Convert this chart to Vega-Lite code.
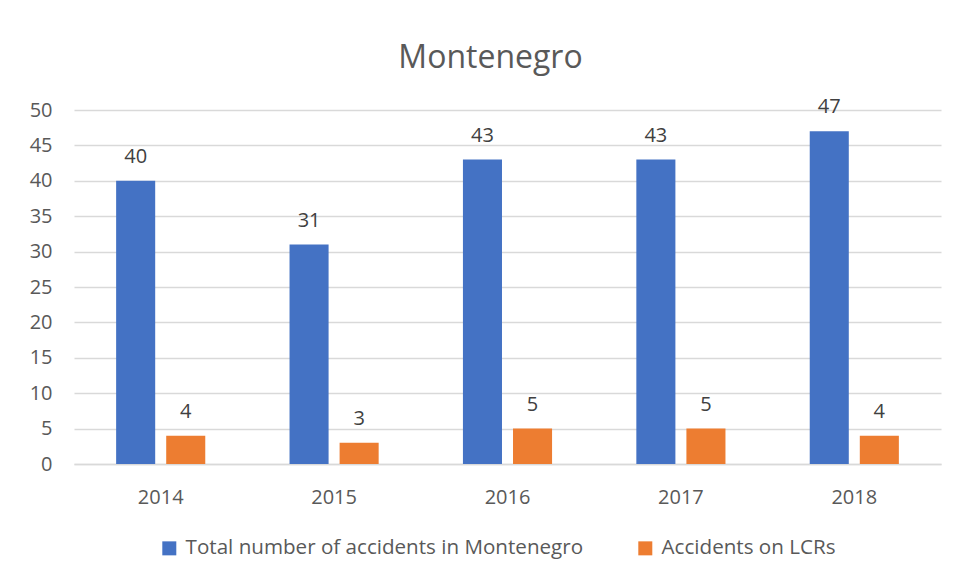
{
  "$schema": "https://vega.github.io/schema/vega-lite/v6.json",
  "width": 867,
  "height": 354,
  "autosize": {"type": "none"},
  "padding": {"left": 74, "top": 110, "right": 16, "bottom": 116},
  "background": "white",
  "title": {
    "text": "Montenegro",
    "font": "Open Sans",
    "fontSize": 32,
    "fontWeight": "normal",
    "color": "#595959",
    "anchor": "middle",
    "frame": "group",
    "dx": -17,
    "offset": 22
  },
  "data": {
    "values": [
      {"year": "2014", "series": "Total number of accidents in Montenegro", "value": 40},
      {"year": "2014", "series": "Accidents on LCRs", "value": 4},
      {"year": "2015", "series": "Total number of accidents in Montenegro", "value": 31},
      {"year": "2015", "series": "Accidents on LCRs", "value": 3},
      {"year": "2016", "series": "Total number of accidents in Montenegro", "value": 43},
      {"year": "2016", "series": "Accidents on LCRs", "value": 5},
      {"year": "2017", "series": "Total number of accidents in Montenegro", "value": 43},
      {"year": "2017", "series": "Accidents on LCRs", "value": 5},
      {"year": "2018", "series": "Total number of accidents in Montenegro", "value": 47},
      {"year": "2018", "series": "Accidents on LCRs", "value": 4}
    ]
  },
  "encoding": {
    "x": {
      "field": "year",
      "type": "nominal",
      "scale": {"paddingInner": 0.486, "paddingOuter": 0.243},
      "axis": {
        "title": null,
        "labelAngle": 0,
        "labelFont": "Open Sans",
        "labelFontSize": 20,
        "labelColor": "#595959",
        "labelBaseline": "alphabetic",
        "labelPadding": 39,
        "tickSize": 0,
        "domainColor": "#D9D9D9",
        "domainWidth": 1.3
      }
    },
    "xOffset": {
      "field": "series",
      "type": "nominal",
      "sort": ["Total number of accidents in Montenegro", "Accidents on LCRs"],
      "scale": {"paddingInner": 0.22, "paddingOuter": 0}
    },
    "y": {
      "field": "value",
      "type": "quantitative",
      "scale": {"domain": [0, 50]},
      "axis": {
        "title": null,
        "values": [0, 5, 10, 15, 20, 25, 30, 35, 40, 45, 50],
        "labelFont": "Open Sans",
        "labelFontSize": 20,
        "labelColor": "#595959",
        "labelPadding": 22,
        "tickSize": 0,
        "domain": false,
        "gridColor": "#D9D9D9",
        "gridWidth": 1.3
      }
    }
  },
  "layer": [
    {
      "mark": {"type": "bar"},
      "encoding": {
        "color": {
          "field": "series",
          "type": "nominal",
          "sort": ["Total number of accidents in Montenegro", "Accidents on LCRs"],
          "scale": {
            "domain": ["Total number of accidents in Montenegro", "Accidents on LCRs"],
            "range": ["#4472C4", "#ED7D31"]
          },
          "legend": {
            "title": null,
            "orient": "none",
            "direction": "horizontal",
            "legendX": 85,
            "legendY": 428,
            "symbolType": "square",
            "symbolSize": 196,
            "symbolStrokeWidth": 0,
            "labelFont": "Open Sans",
            "labelFontSize": 20.6,
            "labelColor": "#595959",
            "labelLimit": 600,
            "labelOffset": 6,
            "columnPadding": 51
          }
        }
      }
    },
    {
      "mark": {
        "type": "text",
        "dy": -18,
        "baseline": "alphabetic",
        "font": "Open Sans",
        "fontSize": 20,
        "color": "#404040"
      },
      "encoding": {
        "text": {"field": "value", "type": "quantitative"}
      }
    }
  ],
  "config": {
    "view": {"stroke": null}
  }
}
